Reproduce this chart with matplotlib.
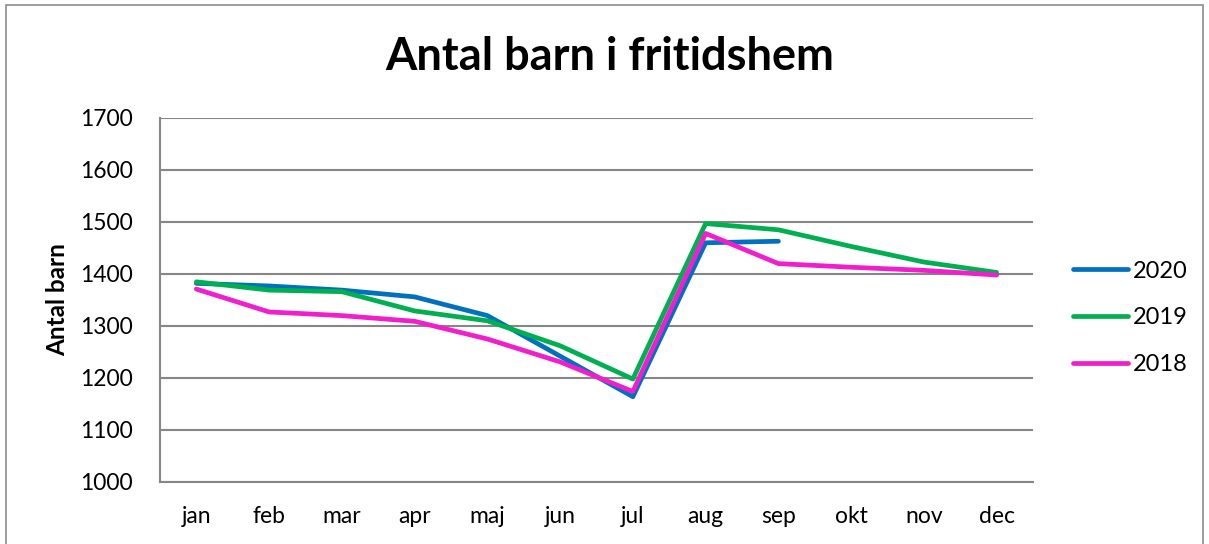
import matplotlib.pyplot as plt
from matplotlib.patches import Rectangle

plt.rcParams['font.family'] = ['Lato', 'DejaVu Sans']

months = ['jan', 'feb', 'mar', 'apr', 'maj', 'jun', 'jul', 'aug', 'sep', 'okt', 'nov', 'dec']
v2020 = [1382, 1377, 1369, 1356, 1320, 1242, 1164, 1460, 1463]
v2019 = [1385, 1369, 1366, 1329, 1310, 1262, 1198, 1497, 1485, 1453, 1423, 1403]
v2018 = [1371, 1327, 1320, 1309, 1275, 1231, 1174, 1478, 1420, 1413, 1407, 1398]

fig = plt.figure(figsize=(12.09, 5.44), dpi=100)
ax = fig.add_axes([160 / 1209, 1 - 482 / 544, (1033 - 160) / 1209, (482 - 118) / 544])

# ram runt hela bilden
fig.patches.append(Rectangle((6 / 1209, -0.01), 1197 / 1209, 1 - 5 / 544 + 0.01,
                             transform=fig.transFigure, fill=False,
                             edgecolor='#8c8c8c', linewidth=1.2))

lw = 3.4
ax.plot(months[:len(v2020)], v2020, color='#0070C0', lw=lw, label='2020', solid_capstyle='round')
ax.plot(months, v2019, color='#00B050', lw=lw, label='2019', solid_capstyle='round')
ax.plot(months, v2018, color='#F01ECB', lw=lw, label='2018', solid_capstyle='round')

ax.set_xlim(-0.5, 11.5)
ax.set_ylim(1000, 1700)
ax.set_yticks(range(1000, 1701, 100))
ax.grid(axis='y', color='#868686', lw=1.5)
ax.set_axisbelow(True)
for s in ['top', 'right']:
    ax.spines[s].set_visible(False)
for s in ['left', 'bottom']:
    ax.spines[s].set_color('#868686')
    ax.spines[s].set_linewidth(1.5)
ax.tick_params(length=0, labelsize=16.5)
ax.tick_params(axis='y', pad=19.5)
ax.tick_params(axis='x', pad=17)

ax.set_ylabel('Antal barn', fontsize=17.5, fontweight='bold', labelpad=8)
fig.suptitle('Antal barn i fritidshem', fontsize=32.5, fontweight='bold', y=1 - 57 / 544, va='center', x=610 / 1209)

ax.legend(loc='center left', bbox_to_anchor=(1064 / 1209, 1 - 318 / 544), bbox_transform=fig.transFigure,
          frameon=False, fontsize=17, handlelength=2.3, handletextpad=0.2, labelspacing=1.1,
          borderaxespad=0)

fig.savefig('out.png', dpi=100)
